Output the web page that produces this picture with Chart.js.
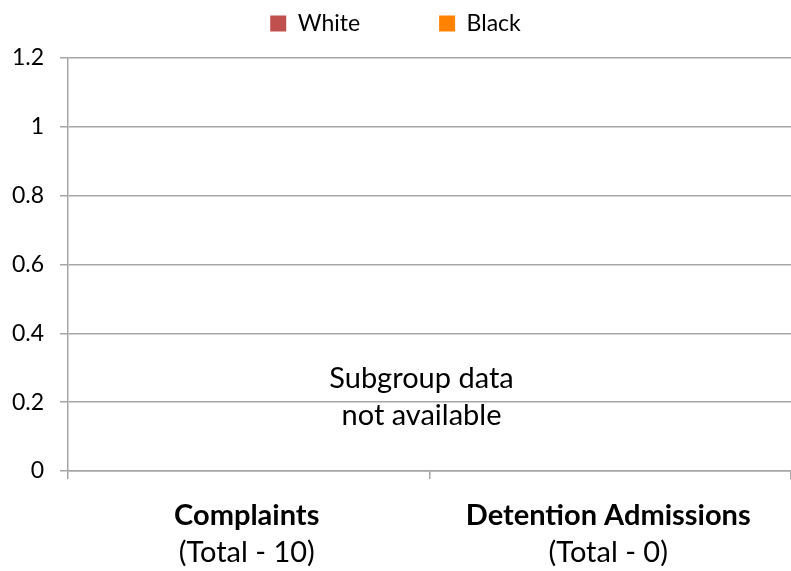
<!DOCTYPE html>
<html>
<head>
<meta charset="utf-8">
<script src="https://cdn.jsdelivr.net/npm/chart.js@4.4.1/dist/chart.umd.min.js"></script>
<style>
  html, body { margin: 0; padding: 0; background: #fff; }
  #wrap { width: 791px; height: 571px; }
</style>
</head>
<body>
<div id="wrap"><canvas id="chart" width="791" height="571"></canvas></div>
<script>
var categories = ['Complaints', 'Detention Admissions'];
var subLabels = ['(Total - 10)', '(Total - 0)'];
var seriesNames = ['White', 'Black'];
var whiteValues = [null, null];
var blackValues = [null, null];
var yTicks = [0, 0.2, 0.4, 0.6, 0.8, 1, 1.2];
var noteLines = ['Subgroup data', 'not available'];

var FONT = 'Lato, "Open Sans", sans-serif';
var GRID = '#a6a6a6';

// category labels (bold name + total line) and the centre note
var labelPlugin = {
	id: 'labelPlugin',
	beforeLayout: function(chart){
		var lg = chart.legend;
		if (lg && !lg._extra) {
			var fit = lg.fit;
			lg.fit = function(){ fit.call(this); this.height += 13; };
			lg._extra = true;
		}
	},
	afterDraw: function(chart){
		var ctx = chart.ctx;
		var x = chart.scales.x;
		var y = chart.scales.y;
		ctx.save();
		ctx.fillStyle = '#000';
		ctx.textAlign = 'center';
		ctx.textBaseline = 'alphabetic';
		for (var i = 0; i < categories.length; i++) {
			var cx = x.getPixelForValue(i) - 2;
			ctx.font = 'bold 29px ' + FONT;
			ctx.fillText(categories[i], cx, y.bottom + 54);
			ctx.font = '29px ' + FONT;
			ctx.fillText(subLabels[i], cx, y.bottom + 91);
		}
		var mid = (chart.chartArea.left + chart.chartArea.right) / 2 - 8;
		var base = y.getPixelForValue(0.24);
		ctx.font = '29px ' + FONT;
		ctx.fillText(noteLines[0], mid, base);
		ctx.fillText(noteLines[1], mid, base + 37);
		ctx.restore();
	}
};

new Chart(document.getElementById('chart'), {
	type: 'bar',
	data: {
		labels: categories,
		datasets: [
			{ label: seriesNames[0], data: whiteValues, backgroundColor: '#c0504d' },
			{ label: seriesNames[1], data: blackValues, backgroundColor: '#ff8200' }
		]
	},
	plugins: [labelPlugin],
	options: {
		responsive: false,
		animation: false,
		layout: { padding: { top: 2, right: 0, left: 0, bottom: 0 } },
		plugins: {
			tooltip: { enabled: false },
			legend: {
				position: 'top',
				labels: {
					boxWidth: 16,
					boxHeight: 16,
					padding: 10,
					color: '#000',
					font: { family: FONT, size: 23 },
					generateLabels: function(chart){
						var items = Chart.defaults.plugins.legend.labels.generateLabels(chart);
						items[0].text = items[0].text + '\u2003\u2003\u2003\u2003';
						items.forEach(function(it){ it.lineWidth = 0; });
						return items;
					}
				}
			}
		},
		scales: {
			x: {
				grid: { drawOnChartArea: false, offset: true, color: GRID, lineWidth: 1.5, tickLength: 8 },
				border: { color: GRID, width: 1.5 },
				ticks: { display: false },
				afterFit: function(scale){ scale.height = 100; }
			},
			y: {
				min: 0,
				max: 1.2,
				afterBuildTicks: function(scale){
					scale.ticks = yTicks.map(function(v){ return { value: v }; });
				},
				grid: { color: GRID, lineWidth: 1.5, tickLength: 8 },
				border: { color: GRID, width: 1.5 },
				ticks: {
					color: '#000',
					padding: 16,
					font: { family: FONT, size: 23 },
					callback: function(v){ return String(v); }
				},
				afterFit: function(scale){ scale.width = 68; }
			}
		}
	}
});
</script>
</body>
</html>
